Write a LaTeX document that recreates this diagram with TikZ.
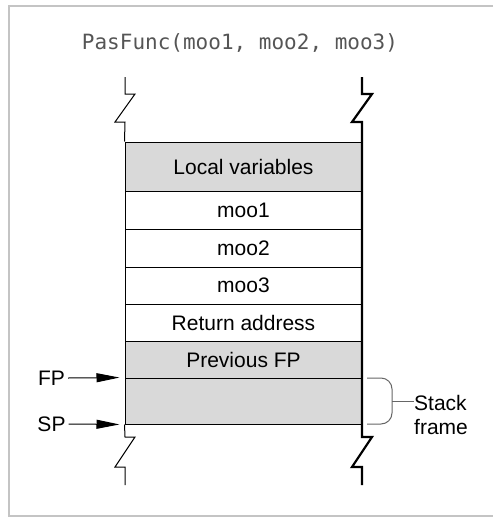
\documentclass[tikz,border=0pt]{standalone}
\usepackage{fontspec}
\setmainfont{Liberation Sans}
\newfontfamily\codefont{DejaVu Sans Mono}
\usetikzlibrary{arrows.meta}
\definecolor{cellgray}{HTML}{D9D9D9}
\definecolor{framegray}{HTML}{C4C4C4}
\definecolor{codegray}{HTML}{555555}

\begin{document}
\begin{tikzpicture}[x=1pt,y=-1pt,
    cell/.style={draw,line width=1pt,inner sep=0pt,minimum width=237pt,
      font=\fontsize{21}{24}\selectfont},
    shaded/.style={cell,fill=cellgray},
    tag/.style={inner sep=3pt,font=\fontsize{21}{24}\selectfont},
    ptr/.style={line width=1pt,-{Triangle[length=23pt,width=9pt]},shorten >=5pt}]
    \useasboundingbox (0,0) rectangle (493,517);

    % Outer frame
    \draw[framegray,line width=1.5pt] (493,6) -- (9,6) -- (9,516) -- (493,516);

    % Call
    \node[font=\codefont\fontsize{21}{24}\selectfont,text=codegray] (call) at (240,43)
      {PasFunc(moo1, moo2, moo3)};

    % Stack cells
    \node[shaded,minimum height=49pt] (lv) at (243.5,166.5) {Local variables};
    \node[cell,minimum height=38pt] (m1) at (243.5,210) {moo1};
    \node[cell,minimum height=38pt] (m2) at (243.5,248) {moo2};
    \node[cell,minimum height=37pt] (m3) at (243.5,285.5) {moo3};
    \node[cell,minimum height=37pt] (ra) at (243.5,322.5) {Return address};
    \node[shaded,minimum height=37pt] (pfp) at (243.5,359.5) {Previous FP};
    \node[shaded,minimum height=46pt] (frm) at (243.5,401) {};

    % Broken edges
    \draw[line width=1pt] (125,77) -- (125,94) -- (135,94) -- (115,122) -- (125,122) -- (lv.north west);
    \draw[line width=1pt] (frm.south west) -- (125,437) -- (135,437) -- (115,467) -- (125,467) -- (125,485);
    \draw[line width=2.2pt] (362,77) -- (362,94) -- (372,94) -- (352,122) -- (362,122)
      -- (362,437) -- (372,437) -- (352,467) -- (362,467) -- (362,485);

    % Pointers
    \node[tag] (fp) at (51.5,378) {FP};
    \node[tag] (sp) at (51.5,424) {SP};
    \draw[ptr] (fp.east) -- (frm.north west);
    \draw[ptr] (sp.east) -- (frm.south west);

    % Stack frame brace
    \draw[black!60,line width=1pt] (367,378) -- (381,378)
      arc[start angle=-90,end angle=0,radius=11] -- (392,413)
      arc[start angle=0,end angle=90,radius=11] -- (367,424);
    \coordinate (tip) at (392,401);
    \node[tag,anchor=west,align=left,inner sep=0pt] (sf) at (414,415) {Stack\\frame};
    \draw[black!60,line width=1pt] (tip) -- (sf.west |- tip);

\end{tikzpicture}
\end{document}
